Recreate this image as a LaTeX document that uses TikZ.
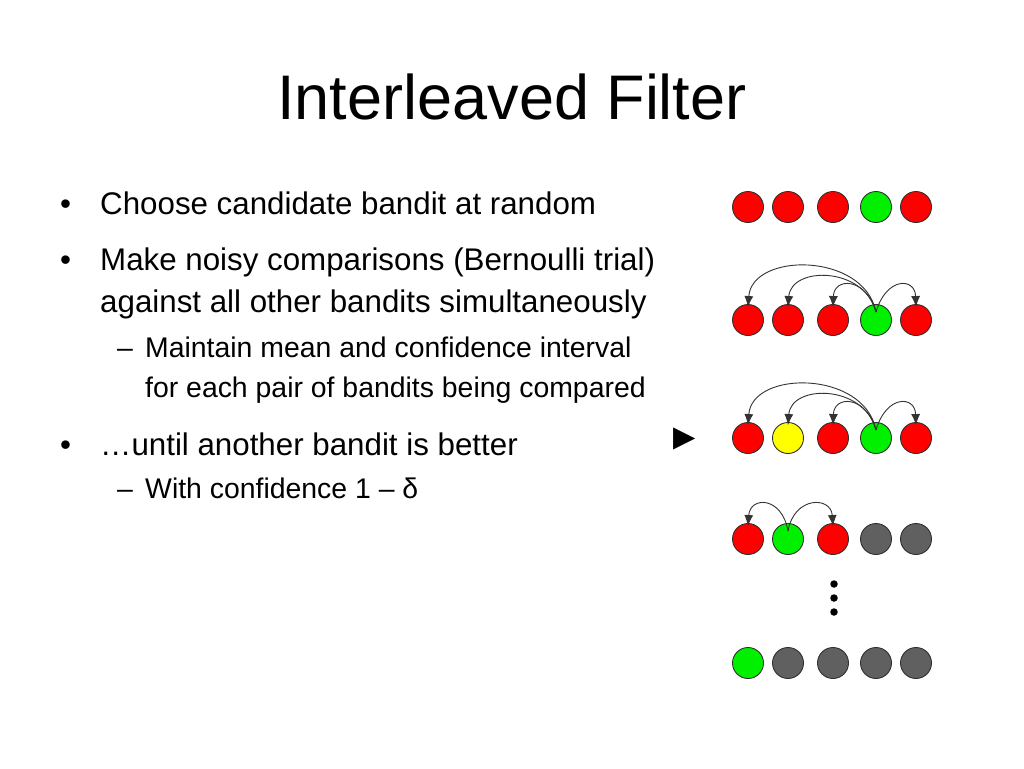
\documentclass[tikz,border=0pt]{standalone}
\usepackage{fontspec}
\setmainfont{Liberation Sans}
\newfontfamily\symfont{DejaVu Sans}
\usetikzlibrary{arrows.meta}
\definecolor{bred}{HTML}{FF0000}
\definecolor{bgreen}{HTML}{00F000}
\definecolor{byellow}{HTML}{FFFF00}
\definecolor{bgray}{HTML}{606060}
\definecolor{edge}{HTML}{303030}
\begin{document}
\begin{tikzpicture}[x=1pt,y=-1pt,
  ball/.style={circle,draw=edge,line width=0.9pt,minimum size=31pt,inner sep=0pt},
  red/.style={ball,fill=bred},
  grn/.style={ball,fill=bgreen},
  yel/.style={ball,fill=byellow},
  gry/.style={ball,fill=bgray},
  cmp/.style={draw=black!80,line width=0.9pt,-{Latex[length=11pt,width=9pt]}},
  title/.style={anchor=base,font=\fontsize{63}{70}\selectfont},
  lvlone/.style={anchor=base west,font=\fontsize{31.3}{36}\selectfont,inner sep=0pt},
  lvltwo/.style={anchor=base west,font=\fontsize{28.4}{33}\selectfont,inner sep=0pt},
  dotn/.style={circle,fill=black,minimum size=7.5pt,inner sep=0pt}]
\useasboundingbox[fill=white] (0,0) rectangle (1024,768);

% title
\node[title] (t) at (512,119) {Interleaved Filter};

% bullets
\node[lvlone] (b1) at (60,214) {•};
\node[lvlone] (l1) at (100,214) {Choose candidate bandit at random};
\node[lvlone] (b2) at (60,270) {•};
\node[lvlone] (l2) at (100,270) {Make noisy comparisons (Bernoulli trial)};
\node[lvlone] (l3) at (100,312) {against all other bandits simultaneously};
\node[lvltwo] (d1) at (117,357) {–};
\node[lvltwo] (l4) at (145,357) {Maintain mean and confidence interval};
\node[lvltwo] (l5) at (145,397) {for each pair of bandits being compared};
\node[lvlone] (b3) at (60,455) {•};
\node[lvlone] (l6) at (100,455) {…until another bandit is better};
\node[lvltwo] (d2) at (117,498) {–};
\node[lvltwo] (l7) at (145,498) {With confidence 1 – δ};

% pointer
\node[inner sep=0pt,anchor=center,font=\symfont\fontsize{29}{31}\selectfont] (ptr) at (685,439) {▶};

% row 1
\node[red] (a1) at (748,207) {};
\node[red] (a2) at (788,207) {};
\node[red] (a3) at (833,207) {};
\node[grn] (a4) at (876,207) {};
\node[red] (a5) at (916,207) {};

% row 2
\node[red] (p1) at (748,320) {};
\node[red] (p2) at (788,320) {};
\node[red] (p3) at (833,320) {};
\node[grn] (p4) at (876,320) {};
\node[red] (p5) at (916,320) {};
\coordinate (po) at ([yshift=-8pt]p4.north);
\draw[cmp] (po) .. controls (864,252) and (752,252) .. ([yshift=-3pt]p1.north);
\draw[cmp] (po) .. controls (864,266) and (791,266) .. ([yshift=-3pt]p2.north);
\draw[cmp] (po) .. controls (866,277) and (834,277) .. ([yshift=-3pt]p3.north);
\draw[cmp] (po) .. controls (886,277) and (915,277) .. ([yshift=-3pt]p5.north);

% row 3
\node[red] (q1) at (748,438) {};
\node[yel] (q2) at (788,438) {};
\node[red] (q3) at (833,438) {};
\node[grn] (q4) at (876,438) {};
\node[red] (q5) at (916,438) {};
\coordinate (qo) at ([yshift=-8pt]q4.north);
\draw[cmp] (qo) .. controls (864,370) and (752,370) .. ([yshift=-3pt]q1.north);
\draw[cmp] (qo) .. controls (864,384) and (791,384) .. ([yshift=-3pt]q2.north);
\draw[cmp] (qo) .. controls (866,395) and (834,395) .. ([yshift=-3pt]q3.north);
\draw[cmp] (qo) .. controls (886,395) and (915,395) .. ([yshift=-3pt]q5.north);

% row 4
\node[red] (r1) at (748,539) {};
\node[grn] (r2) at (788,539) {};
\node[red] (r3) at (833,539) {};
\node[gry] (r4) at (876,539) {};
\node[gry] (r5) at (916,539) {};
\coordinate (ro) at ([yshift=-8pt]r2.north);
\draw[cmp] (ro) .. controls (782,496) and (750,496) .. ([yshift=-3pt]r1.north);
\draw[cmp] (ro) .. controls (794,496) and (831,496) .. ([yshift=-3pt]r3.north);

% dots
\node[dotn] (e1) at (834,584) {};
\node[dotn] (e2) at (834,598) {};
\node[dotn] (e3) at (834,612) {};

% row 5
\node[grn] (s1) at (748,663) {};
\node[gry] (s2) at (788,663) {};
\node[gry] (s3) at (833,663) {};
\node[gry] (s4) at (876,663) {};
\node[gry] (s5) at (916,663) {};
\end{tikzpicture}
\end{document}
